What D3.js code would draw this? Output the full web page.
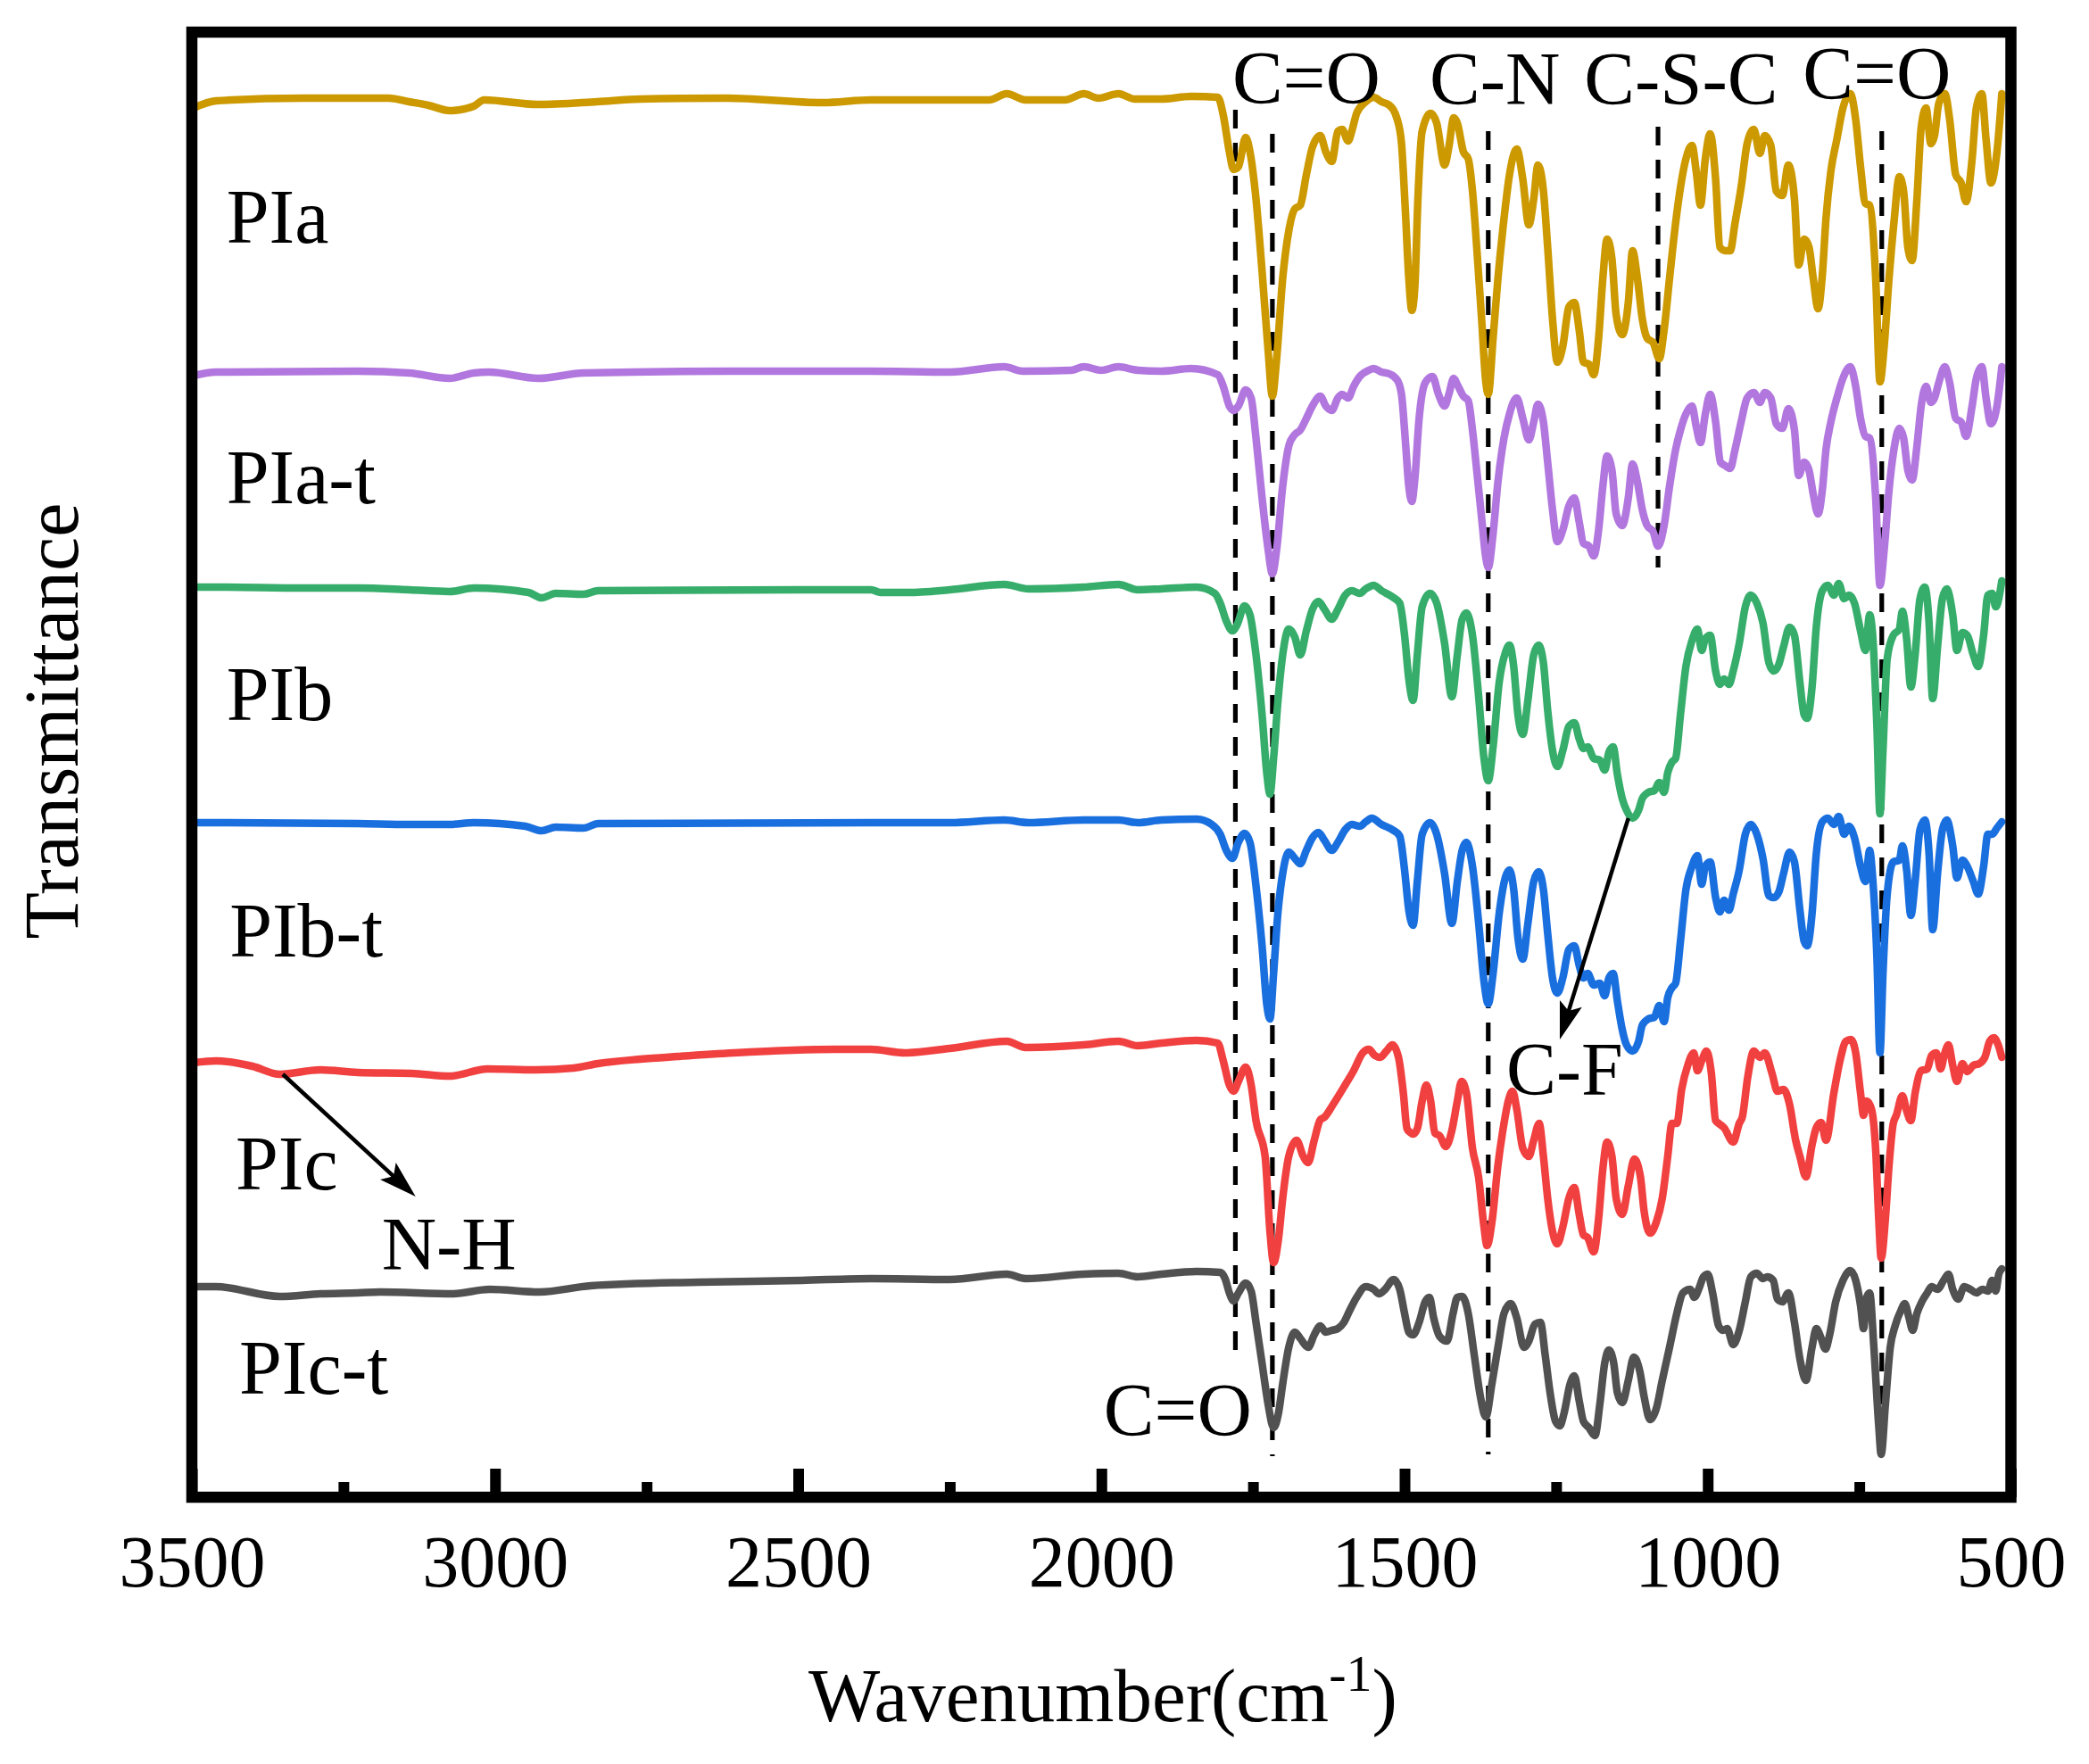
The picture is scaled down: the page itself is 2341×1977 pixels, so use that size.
<!DOCTYPE html>
<html>
<head>
<meta charset="utf-8">
<script src="https://cdn.jsdelivr.net/npm/d3@7"></script>
<style>
  html, body { margin: 0; padding: 0; background: #ffffff; }
  svg text { font-family: "Liberation Serif", "Times New Roman", Times, serif; fill: #000; }
</style>
</head>
<body>
<svg id="chart" width="2341" height="1977"></svg>
<script>
// ---------------- DATA ----------------
const sampleNames = ["PIa", "PIa-t", "PIb", "PIb-t", "PIc", "PIc-t"];

// [wavenumber (cm-1), transmittance (a.u., stacked)]
const PIa = [[3497,155.7],[3460,156.5],[3317,156.8],[3175,156.8],[3142,156.4],[3110,156.0],[3075,155.4],[3050,155.6],[3035,155.9],[3018,156.6],[2930,156.1],[2832,156.4],[2760,156.7],[2618,156.8],[2459,156.3],[2380,156.6],[2250,156.6],[2185,156.6],[2156,157.3],[2125,156.6],[2060,156.6],[2029,157.3],[2005,156.8],[1972,157.3],[1945,156.7],[1901,156.7],[1852,157.0],
[1808,156.9],[1799,154.9],[1789,150.8],[1782,148.8],[1774,149.1],[1762,152.4],[1755,150.8],[1745,145.5],[1735,137.4],[1725,128.5],[1718,123.4],[1711,127.6],[1701,136.6],[1691,141.9],[1681,144.4],[1672,144.8],[1662,148.2],[1652,151.3],[1639,152.6],[1630,150.8],[1620,149.7],[1610,153.1],[1603,153.3],[1593,152.0],[1587,153.1],[1579,155.1],[1564,156.4],[1551,156.9],[1538,156.4],[1525,156.0],[1512,154.4],[1505,151.7],[1499,144.6],[1493,136.6],[1488,133.0],[1483,135.7],[1478,145.5],[1471,153.1],[1457,155.1],[1447,154.0],[1434,149.3],[1427,151.3],[1419,154.6],[1413,154.0],[1403,150.8],[1395,150.0],[1388,146.4],[1381,140.1],[1373,132.1],[1366,125.0],[1362,123.6],[1354,129.9],[1346,136.6],[1336,143.3],[1327,148.2],[1315,151.1],[1305,147.7],[1295,142.6],[1287,145.5],[1280,149.3],[1271,146.4],[1264,140.1],[1256,132.1],[1248,127.2],[1239,129.0],[1229,133.4],[1220,133.9],[1212,130.8],[1205,127.2],[1196,127.0],[1188,125.8],[1180,129.9],[1173,136.6],[1166,141.0],[1158,138.8],[1151,132.5],[1141,130.3],[1131,133.9],[1124,139.7],[1116,136.6],[1108,132.1],[1100,129.9],[1090,129.4],[1080,127.6],[1072,130.8],[1063,136.6],[1053,142.8],[1045,146.8],[1036,150.0],[1026,151.5],[1019,148.6],[1012,144.8],[1004,150.0],[996,152.8],[987,147.7],[980,140.1],[971,139.7],[963,139.7],[955,142.8],[945,146.8],[935,151.7],[924,153.3],[914,150.6],[906,152.6],[896,151.5],[887,146.4],[877,145.9],[867,149.3],[857,145.5],[850,138.1],[841,141.0],[833,140.1],[826,136.6],[818,133.2],[811,137.0],[805,143.3],[797,148.6],[787,152.2],[777,155.7],[765,157.3],[756,154.4],[748,149.1],[740,145.0],[733,144.8],[723,136.6],[716,125.0],[709,129.0],[701,136.6],[693,142.8],[684,148.0],[677,146.4],[670,140.1],[663,138.6],[655,145.5],[648,153.5],[640,155.7],[632,151.7],[626,152.6],[619,156.2],[609,157.3],[601,154.4],[591,148.2],[582,147.3],[574,145.2],[564,150.0],[557,155.7],[548,157.3],[541,152.2],[533,147.3],[523,150.8],[515,157.3]];

const PIa_t = [[3497,125.7],[3460,126.1],[3226,126.2],[3142,126.0],[3075,125.4],[3035,126.0],[3010,126.1],[2928,125.4],[2854,126.0],[2620,126.2],[2380,126.2],[2250,126.1],[2160,126.7],[2130,126.2],[2050,126.3],[2029,126.7],[2000,126.3],[1972,126.7],[1940,126.3],[1901,126.2],[1852,126.5],
[1808,125.8],[1799,124.5],[1789,122.3],[1782,121.8],[1774,122.3],[1762,124.1],[1753,123.2],[1745,118.7],[1735,112.0],[1725,106.2],[1718,103.5],[1711,106.2],[1701,113.3],[1691,117.8],[1681,119.1],[1672,119.6],[1662,120.9],[1652,122.3],[1639,123.4],[1630,122.3],[1620,121.8],[1610,123.2],[1603,123.6],[1593,123.2],[1584,124.5],[1574,125.6],[1559,126.3],[1551,126.5],[1538,126.1],[1525,125.9],[1512,125.2],[1505,123.6],[1499,118.7],[1493,113.3],[1488,111.6],[1483,114.2],[1476,120.9],[1466,124.9],[1454,125.6],[1444,123.6],[1434,122.3],[1427,123.6],[1419,125.4],[1413,124.7],[1403,123.4],[1395,122.9],[1388,119.6],[1381,115.1],[1373,109.8],[1366,105.3],[1362,104.2],[1354,108.0],[1346,113.8],[1336,118.7],[1327,121.4],[1315,123.2],[1305,120.9],[1295,118.5],[1287,120.5],[1280,122.5],[1271,120.5],[1264,116.0],[1256,110.7],[1248,107.1],[1239,108.4],[1229,111.1],[1220,112.0],[1212,109.3],[1205,106.9],[1196,106.6],[1188,105.5],[1180,108.4],[1173,113.3],[1166,116.7],[1158,115.1],[1151,110.2],[1141,108.9],[1131,112.0],[1124,115.8],[1116,113.8],[1108,110.7],[1100,108.9],[1090,108.2],[1082,106.6],[1072,108.9],[1063,113.3],[1053,117.4],[1045,119.6],[1036,121.4],[1026,122.3],[1019,120.0],[1012,118.2],[1004,121.4],[996,123.6],[987,120.5],[979,116.0],[971,115.6],[963,115.3],[955,117.4],[945,120.5],[935,123.2],[924,123.8],[914,122.7],[906,123.8],[896,123.2],[887,120.3],[877,119.8],[867,122.0],[857,119.6],[850,114.5],[841,116.0],[833,115.1],[826,112.4],[818,110.2],[811,112.9],[805,117.4],[797,120.5],[787,123.2],[777,125.4],[765,126.7],[756,124.5],[748,120.9],[740,118.9],[733,118.7],[723,112.0],[716,102.2],[709,106.2],[701,112.9],[693,117.4],[684,119.8],[677,118.7],[670,115.1],[663,114.0],[655,117.8],[648,122.3],[640,124.5],[632,122.7],[626,123.2],[619,124.9],[609,126.7],[601,124.9],[591,120.9],[582,120.5],[574,118.9],[564,122.3],[557,125.4],[548,126.7],[541,123.2],[533,120.3],[523,122.3],[515,126.7]];

const PIb = [[3497,102.0],[3460,102.0],[3317,101.9],[3226,101.9],[3142,101.7],[3075,101.5],[3035,101.9],[2945,101.4],[2923,100.8],[2900,101.3],[2854,101.2],[2830,101.6],[2500,101.7],[2380,101.7],[2364,101.4],[2318,101.4],[2250,101.7],[2160,102.3],[2120,101.8],[2029,102.0],[1972,102.3],[1940,101.7],[1901,101.8],[1843,102.0],
[1813,101.3],[1804,100.2],[1794,98.2],[1784,97.1],[1776,97.8],[1764,99.9],[1755,98.9],[1745,94.4],[1735,87.7],[1727,81.0],[1722,78.8],[1716,82.8],[1709,89.1],[1701,94.4],[1691,97.3],[1681,96.4],[1672,94.4],[1662,97.1],[1652,99.5],[1642,100.4],[1632,99.5],[1620,98.4],[1610,99.5],[1598,101.1],[1587,101.6],[1574,101.3],[1564,101.8],[1551,102.2],[1538,101.6],[1520,100.9],[1508,100.2],[1500,96.6],[1493,91.7],[1486,89.3],[1479,94.4],[1471,99.8],[1458,101.3],[1447,100.2],[1434,95.7],[1422,89.7],[1413,94.4],[1405,98.4],[1398,99.1],[1388,96.6],[1378,89.9],[1369,82.8],[1362,80.3],[1354,84.1],[1344,91.3],[1334,94.6],[1327,95.5],[1320,93.1],[1313,87.7],[1305,85.5],[1297,89.1],[1287,94.4],[1279,95.5],[1271,93.5],[1264,88.2],[1256,83.7],[1248,81.9],[1239,83.7],[1229,86.4],[1220,86.8],[1212,85.0],[1205,83.9],[1198,84.1],[1188,82.8],[1178,82.6],[1170,81.5],[1163,83.5],[1156,84.1],[1149,81.0],[1141,78.3],[1134,77.0],[1124,76.1],[1114,77.0],[1108,78.3],[1098,79.0],[1088,79.2],[1080,80.1],[1072,79.0],[1066,81.2],[1059,82.4],[1053,82.8],[1045,87.7],[1036,93.1],[1026,96.0],[1017,97.3],[1010,94.9],[1004,96.2],[996,96.6],[987,92.6],[980,91.1],[973,91.7],[965,91.1],[958,92.6],[948,95.7],[938,99.8],[929,101.1],[919,100.2],[909,98.0],[899,93.5],[891,92.6],[883,93.3],[875,95.3],[865,97.5],[857,96.6],[848,91.3],[841,87.7],[836,87.3],[828,90.8],[821,97.5],[811,101.6],[802,102.2],[792,101.1],[784,102.4],[775,100.7],[767,101.1],[758,100.2],[748,97.1],[740,94.9],[733,98.9],[728,96.6],[721,86.4],[716,76.6],[711,83.7],[704,94.0],[694,96.6],[684,97.3],[679,99.3],[672,96.2],[665,90.8],[658,94.4],[650,100.7],[642,102.0],[635,98.0],[629,89.5],[621,95.3],[613,100.7],[606,101.8],[596,98.9],[589,94.9],[580,96.9],[572,96.6],[562,94.4],[554,93.1],[545,96.6],[538,101.1],[531,101.3],[525,99.8],[515,102.7]];

const PIb_t = [[3497,75.6],[3460,75.6],[3226,75.5],[3142,75.4],[3075,75.4],[3035,75.6],[2950,75.2],[2923,74.7],[2900,75.1],[2854,75.0],[2830,75.5],[2380,75.6],[2250,75.6],[2160,75.9],[2120,75.6],[2029,75.9],[1972,75.9],[1940,75.6],[1901,75.9],[1843,76.0],
[1818,75.4],[1804,74.3],[1794,72.5],[1784,71.6],[1774,73.4],[1764,74.4],[1755,73.4],[1745,68.5],[1735,61.8],[1727,55.1],[1722,53.6],[1716,58.7],[1709,65.4],[1701,69.9],[1691,72.3],[1681,71.6],[1672,71.0],[1662,72.5],[1652,73.9],[1642,74.5],[1632,73.6],[1620,72.5],[1610,73.4],[1598,74.8],[1587,75.4],[1574,75.2],[1564,75.7],[1554,76.1],[1538,75.4],[1520,74.8],[1508,74.1],[1500,70.3],[1493,65.8],[1486,64.1],[1479,69.0],[1471,74.3],[1458,75.6],[1447,74.3],[1434,69.9],[1422,64.3],[1413,69.0],[1405,72.5],[1398,73.4],[1388,70.7],[1378,64.5],[1369,57.8],[1362,55.3],[1354,58.7],[1344,65.4],[1334,69.4],[1327,70.3],[1320,68.1],[1313,62.7],[1305,60.3],[1297,64.1],[1287,69.0],[1279,70.1],[1271,68.1],[1264,63.2],[1256,58.2],[1248,56.5],[1239,58.2],[1229,61.4],[1220,61.8],[1212,59.6],[1205,58.2],[1198,58.7],[1188,57.4],[1178,57.6],[1170,56.2],[1163,58.2],[1156,58.7],[1149,55.6],[1141,52.4],[1134,50.7],[1124,50.0],[1114,51.1],[1108,52.9],[1098,53.6],[1088,53.8],[1080,55.1],[1072,53.3],[1066,56.0],[1059,57.1],[1053,57.6],[1045,62.3],[1036,68.1],[1026,70.7],[1017,71.9],[1010,68.7],[1004,70.7],[996,71.2],[987,67.2],[980,65.6],[973,66.9],[965,65.8],[958,67.6],[948,70.3],[938,74.3],[929,75.4],[919,74.3],[909,71.6],[899,67.4],[891,67.2],[883,67.8],[875,69.9],[865,72.3],[857,71.2],[848,65.8],[841,62.3],[836,61.8],[828,65.4],[821,72.1],[811,75.7],[802,76.1],[792,75.4],[784,76.3],[775,74.3],[767,75.2],[758,73.9],[748,70.7],[740,69.0],[733,72.5],[728,69.4],[721,60.5],[716,49.8],[711,58.7],[704,67.6],[694,71.2],[684,71.4],[679,73.0],[672,70.3],[665,65.2],[658,69.0],[650,74.8],[642,75.9],[635,72.1],[629,63.6],[621,69.9],[613,74.8],[606,75.9],[596,73.0],[589,69.4],[580,71.4],[572,70.7],[562,69.0],[554,67.6],[545,70.7],[538,74.3],[531,74.3],[523,75.0],[515,75.7]];

const PIc = [[3497,48.7],[3460,48.9],[3400,48.3],[3355,47.4],[3288,47.9],[3226,47.6],[3138,47.5],[3075,47.2],[3012,48.0],[2933,47.9],[2870,48.1],[2830,48.6],[2760,49.1],[2699,49.4],[2606,49.8],[2438,50.2],[2380,50.2],[2324,49.8],[2250,50.3],[2156,51.1],[2125,50.4],[2029,50.7],[1972,51.1],[1940,50.6],[1901,50.9],[1843,51.2],
[1808,50.9],[1799,48.9],[1789,46.2],[1782,45.5],[1774,46.6],[1762,48.2],[1753,46.2],[1745,42.2],[1730,38.2],[1722,29.8],[1716,26.3],[1708,28.9],[1701,33.5],[1691,38.2],[1678,40.0],[1667,38.2],[1659,37.5],[1649,40.0],[1639,42.3],[1632,42.6],[1618,44.0],[1598,46.2],[1584,47.8],[1569,49.8],[1559,50.2],[1549,49.5],[1540,49.3],[1530,50.0],[1520,50.7],[1510,49.3],[1502,45.3],[1496,41.3],[1491,40.9],[1486,40.7],[1479,41.3],[1471,44.4],[1464,46.2],[1457,44.4],[1450,40.8],[1442,40.5],[1432,39.3],[1422,41.1],[1413,44.4],[1406,46.6],[1398,45.3],[1388,39.1],[1378,35.9],[1369,30.3],[1364,28.2],[1356,30.8],[1346,37.2],[1336,41.9],[1329,44.4],[1322,45.5],[1315,43.5],[1305,39.1],[1295,38.2],[1287,40.0],[1278,41.9],[1271,38.2],[1264,33.5],[1256,29.8],[1248,28.4],[1239,30.3],[1229,33.5],[1220,34.7],[1212,31.7],[1205,29.4],[1198,29.1],[1188,27.5],[1180,31.2],[1173,36.8],[1166,39.8],[1158,38.2],[1151,33.5],[1141,31.7],[1131,34.9],[1121,37.9],[1111,35.9],[1105,32.1],[1095,29.6],[1085,30.8],[1075,33.5],[1066,38.2],[1059,41.9],[1051,41.9],[1043,45.7],[1033,48.4],[1023,49.8],[1017,47.8],[1010,48.9],[1002,50.0],[994,47.5],[987,42.2],[982,41.9],[973,41.4],[958,39.8],[948,41.9],[943,42.6],[934,47.1],[924,50.0],[914,49.3],[906,49.8],[894,47.5],[885,45.5],[875,45.7],[865,44.0],[855,40.0],[848,38.2],[838,35.9],[828,39.5],[821,41.4],[813,42.0],[805,40.0],[792,45.3],[782,48.9],[772,51.1],[764,51.3],[756,49.8],[748,45.3],[743,42.8],[738,44.4],[730,43.5],[723,38.9],[718,31.2],[714,26.8],[707,31.2],[701,37.2],[694,41.9],[689,42.8],[679,45.0],[672,43.3],[665,42.2],[658,45.3],[648,47.8],[638,48.0],[631,49.5],[623,49.8],[616,48.0],[609,49.8],[603,50.7],[596,48.4],[589,46.6],[580,48.6],[572,47.7],[562,48.4],[552,48.6],[543,49.3],[535,51.1],[528,51.5],[521,50.7],[515,49.3]];

const PIc_t = [[3497,23.6],[3460,23.6],[3355,22.5],[3288,22.8],[3226,22.9],[3190,23.0],[3070,22.8],[3009,23.3],[2927,23.0],[2842,23.7],[2663,24.1],[2494,24.3],[2380,24.5],[2250,24.4],[2156,25.0],[2125,24.5],[2029,25.0],[1972,25.1],[1940,24.7],[1901,25.0],[1843,25.3],[1804,25.2],
[1796,24.5],[1789,22.9],[1782,22.0],[1774,22.9],[1762,24.0],[1753,23.1],[1745,19.6],[1735,15.0],[1725,10.4],[1716,7.8],[1708,9.4],[1701,12.7],[1691,16.8],[1681,18.5],[1672,17.8],[1659,16.8],[1649,18.2],[1639,19.2],[1630,18.5],[1620,18.7],[1610,18.9],[1600,19.6],[1590,21.0],[1579,22.4],[1564,23.6],[1551,23.3],[1542,22.8],[1532,23.3],[1518,24.4],[1508,23.3],[1500,20.6],[1493,18.5],[1486,18.2],[1476,19.6],[1466,21.9],[1459,22.4],[1452,20.1],[1442,18.0],[1430,17.5],[1420,20.6],[1413,22.4],[1405,22.5],[1395,20.6],[1385,15.9],[1375,11.3],[1366,9.0],[1356,12.7],[1346,16.8],[1336,20.6],[1325,21.7],[1315,20.1],[1303,16.8],[1295,17.5],[1285,19.4],[1276,19.6],[1268,15.9],[1260,11.7],[1251,8.5],[1244,8.0],[1237,9.4],[1227,12.7],[1220,13.6],[1212,10.8],[1205,8.5],[1196,7.8],[1186,6.9],[1178,10.4],[1170,15.0],[1163,16.5],[1155,15.0],[1149,11.7],[1141,10.6],[1131,13.1],[1122,15.7],[1112,14.1],[1105,11.3],[1095,8.7],[1085,9.9],[1075,13.1],[1063,16.8],[1051,20.6],[1041,22.9],[1029,23.3],[1022,22.4],[1015,23.3],[1007,24.7],[1000,25.0],[992,22.9],[982,19.2],[975,18.7],[968,18.9],[958,17.1],[948,18.7],[938,21.9],[929,24.7],[919,25.1],[909,24.5],[902,24.7],[892,24.3],[885,22.2],[877,21.9],[867,22.9],[857,19.6],[848,15.5],[838,13.1],[828,16.8],[821,18.9],[814,18.0],[806,16.6],[799,18.2],[789,21.9],[777,24.3],[765,25.4],[756,24.3],[748,21.5],[743,18.9],[738,22.4],[733,22.9],[726,16.8],[718,8.0],[714,4.8],[707,10.4],[699,16.8],[691,19.2],[681,21.0],[675,21.7],[668,20.1],[662,18.7],[655,20.6],[647,21.9],[638,22.9],[631,23.6],[621,23.3],[611,24.3],[603,25.0],[596,23.3],[587,22.2],[577,23.6],[567,23.3],[557,22.9],[547,23.3],[538,23.1],[531,24.3],[525,23.1],[520,25.0],[515,25.6]];

const seriesValues = [PIa, PIa_t, PIb, PIb_t, PIc, PIc_t];

const xTickValues = [3500, 3000, 2500, 2000, 1500, 1000, 500];
const xMinorTickValues = [3250, 2750, 2250, 1750, 1250, 750];

const peakWavenumbers = [1779, 1718, 1362, 1082, 713];
const peakLabelTexts = ["C=O", "C-N", "C-S-C", "C=O"];
const extraLabelTexts = ["C-F", "N-H", "C=O"];

const xTitle = "Wavenumber(cm";
const xTitleSup = "-1";
const yTitle = "Transmittance";

// ---------------- STYLE / LAYOUT ----------------
const seriesColors = ["#CC9900", "#B177DE", "#37AD6B", "#1A6FDF", "#F14040", "#515151"];

const svg = d3.select("#chart");
const x = d3.scaleLinear().domain([3500, 500]).range([215, 2253.5]);
const y = d3.scaleLinear().domain([0, 164.2]).range([1678, 36]);

const line = d3.line()
  .x(d => x(d[0]))
  .y(d => y(d[1]))
  .curve(d3.curveMonotoneX);

// dashed peak guide lines (extent in transmittance units)
const guideExtents = [[155.5, 15.2], [152.8, 4.6], [153.1, 4.8], [153.6, 104.2], [153.1, 4.8]];
svg.append("g").selectAll("line")
  .data(peakWavenumbers)
  .join("line")
  .attr("x1", d => x(d)).attr("x2", d => x(d))
  .attr("y1", (d, i) => y(guideExtents[i][0]))
  .attr("y2", (d, i) => y(guideExtents[i][1]))
  .attr("stroke", "#000")
  .attr("stroke-width", 5.2)
  .attr("stroke-dasharray", "21,16");

// spectra
svg.append("g").selectAll("path")
  .data(seriesValues)
  .join("path")
  .attr("d", d => line(d.slice().sort((a, b) => b[0] - a[0])))
  .attr("fill", "none")
  .attr("stroke", (d, i) => seriesColors[i])
  .attr("stroke-width", 8.5)
  .attr("stroke-linejoin", "round")
  .attr("stroke-linecap", "round");

// sample labels
const sampleLabelPos = [[3443, 140.6], [3443, 111.4], [3443, 87.1], [3438, 60.6], [3428, 34.5], [3422, 11.6]];
svg.append("g").selectAll("text")
  .data(sampleNames)
  .join("text")
  .attr("x", (d, i) => x(sampleLabelPos[i][0]))
  .attr("y", (d, i) => y(sampleLabelPos[i][1]))
  .attr("font-size", 86)
  .text(d => d);

// peak labels at top
const peakLabelPos = [[1662, 156.2], [1351, 156.1], [1044, 156.1], [721, 156.7]];
svg.append("g").selectAll("text")
  .data(peakLabelTexts)
  .join("text")
  .attr("x", (d, i) => x(peakLabelPos[i][0]))
  .attr("y", (d, i) => y(peakLabelPos[i][1]))
  .attr("text-anchor", "middle")
  .attr("font-size", 85)
  .text(d => d);

// extra labels
svg.append("text").attr("x", x(1236)).attr("y", y(45.1)).attr("text-anchor", "middle")
  .attr("font-size", 84).text(extraLabelTexts[0]);
svg.append("text").attr("x", x(3187)).attr("y", y(25.5)).attr("text-anchor", "start")
  .attr("font-size", 85).text(extraLabelTexts[1]);
svg.append("text").attr("x", x(1752)).attr("y", y(6.9)).attr("text-anchor", "end")
  .attr("font-size", 85).text(extraLabelTexts[2]);

// arrows
function arrow(from, to) {
  const x1 = x(from[0]), y1 = y(from[1]), x2 = x(to[0]), y2 = y(to[1]);
  const dx = x2 - x1, dy = y2 - y1, L = Math.hypot(dx, dy);
  const ux = dx / L, uy = dy / L;
  const hl = 42, hw = 13;
  const bx = x2 - ux * hl, by = y2 - uy * hl;
  svg.append("line")
    .attr("x1", x1).attr("y1", y1)
    .attr("x2", x2 - ux * hl * 0.7).attr("y2", y2 - uy * hl * 0.7)
    .attr("stroke", "#000").attr("stroke-width", 4.5);
  const nx = x2 - ux * hl * 0.8, ny = y2 - uy * hl * 0.8;
  svg.append("path")
    .attr("d", `M${x2},${y2}L${bx - uy * hw},${by + ux * hw}L${nx},${ny}L${bx + uy * hw},${by - ux * hw}Z`)
    .attr("fill", "#000");
}
arrow([3350, 47.4], [3131, 33.7]);
arrow([1131, 76.1], [1244, 51.3]);

// axis ticks
const axisG = svg.append("g").attr("transform", `translate(0,${y(0)})`);
axisG.call(d3.axisBottom(x).tickValues(xTickValues).tickSize(-32).tickPadding(42).tickFormat(d3.format("d")));
axisG.select(".domain").remove();
axisG.selectAll(".tick line").attr("stroke", "#000").attr("stroke-width", 12);
axisG.selectAll(".tick text")
  .attr("font-size", 82)
  .attr("font-family", '"Liberation Serif", "Times New Roman", serif')
  .attr("fill", "#000");

const minorG = svg.append("g").attr("transform", `translate(0,${y(0)})`);
minorG.call(d3.axisBottom(x).tickValues(xMinorTickValues).tickSize(-17).tickFormat(""));
minorG.select(".domain").remove();
minorG.selectAll(".tick line").attr("stroke", "#000").attr("stroke-width", 12);

// frame
svg.append("rect")
  .attr("x", x(3500)).attr("y", y(164.2))
  .attr("width", x(500) - x(3500)).attr("height", y(0) - y(164.2))
  .attr("fill", "none").attr("stroke", "#000").attr("stroke-width", 12.5);

// axis titles
const xt = svg.append("text").attr("x", 906).attr("y", 1929).attr("font-size", 85);
xt.append("tspan").text(xTitle);
xt.append("tspan").attr("font-size", 58).attr("dy", -34).text(xTitleSup);
xt.append("tspan").attr("font-size", 85).attr("dy", 34).text(")");

svg.append("text")
  .attr("transform", "translate(87,808) rotate(-90)")
  .attr("text-anchor", "middle")
  .attr("font-size", 86)
  .text(yTitle);
</script>
</body>
</html>
